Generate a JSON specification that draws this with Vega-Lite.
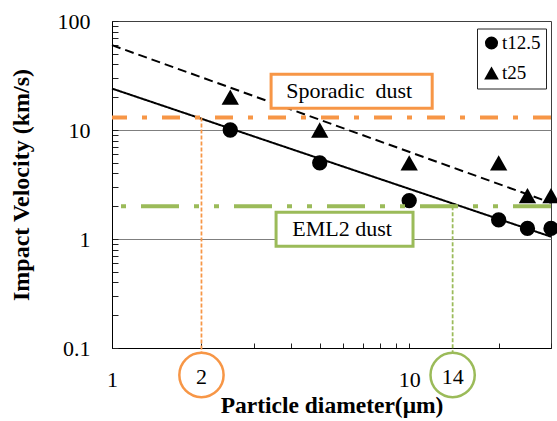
{
  "$schema": "https://vega.github.io/schema/vega-lite/v6.json",
  "width": 439,
  "height": 327,
  "autosize": {"type": "none"},
  "padding": {"left": 112, "top": 21, "right": 6, "bottom": 73},
  "background": "white",
  "config": {
    "font": "Liberation Serif",
    "view": {"stroke": "#404040", "strokeWidth": 1},
    "axis": {
      "labelFont": "Liberation Serif",
      "titleFont": "Liberation Serif",
      "labelColor": "black",
      "titleColor": "black",
      "domainColor": "black",
      "tickColor": "#222222"
    },
    "legend": {"labelFont": "Liberation Serif"}
  },
  "datasets": {
    "points": [
      {"d": 2.5, "v": 10, "s": "t12.5"},
      {"d": 5, "v": 5, "s": "t12.5"},
      {"d": 10, "v": 2.25, "s": "t12.5"},
      {"d": 20, "v": 1.5, "s": "t12.5"},
      {"d": 25, "v": 1.25, "s": "t12.5"},
      {"d": 30, "v": 1.25, "s": "t12.5"},
      {"d": 2.5, "v": 20, "s": "t25"},
      {"d": 5, "v": 10, "s": "t25"},
      {"d": 10, "v": 5, "s": "t25"},
      {"d": 20, "v": 5, "s": "t25"},
      {"d": 25, "v": 2.5, "s": "t25"},
      {"d": 30, "v": 2.5, "s": "t25"}
    ],
    "fits": [
      {"d": 1, "v": 24, "f": "fit12.5"},
      {"d": 30, "v": 1.05, "f": "fit12.5"},
      {"d": 1, "v": 60, "f": "fit25"},
      {"d": 30, "v": 2.15, "f": "fit25"}
    ],
    "levels": [
      {"dust": "Sporadic", "v": 13, "d": 2, "lab": "2"},
      {"dust": "EML2", "v": 2, "d": 14, "lab": "14"}
    ],
    "boxes": [
      {"dust": "Sporadic", "x1": 3.43, "x2": 11.95, "y1": 32.4, "y2": 15.8, "tx": 6.28, "ty": 22.6, "label": "Sporadic\u00a0 dust"},
      {"dust": "EML2", "x1": 3.565, "x2": 10.3, "y1": 1.76, "y2": 0.857, "tx": 5.95, "ty": 1.23, "label": "EML2 dust"}
    ]
  },
  "layer": [
    {
      "data": {"name": "fits"},
      "mark": {"type": "line", "color": "black", "strokeWidth": 2},
      "encoding": {
        "x": {
          "field": "d", "type": "quantitative",
          "scale": {"type": "log", "domain": [1, 30], "nice": false},
          "axis": {
            "values": [1, 2, 3, 4, 5, 6, 7, 8, 9, 10, 20, 30],
            "labelExpr": "datum.value == 1 ? '1' : datum.value == 10 ? '10' : ''",
            "tickSize": -5,
            "labelPadding": 26,
            "labelFontSize": 22,
            "labelFlush": false,
            "labelOverlap": false,
            "grid": false,
            "title": "Particle diameter(μm)",
            "titleFontSize": 23.5,
            "titleFontWeight": "bold",
            "titlePadding": 3
          }
        },
        "y": {
          "field": "v", "type": "quantitative",
          "scale": {"type": "log", "domain": [0.1, 100], "nice": false},
          "axis": {
            "values": [0.1, 0.2, 0.3, 0.4, 0.5, 0.6, 0.7, 0.8, 0.9, 1, 2, 3, 4, 5, 6, 7, 8, 9, 10, 20, 30, 40, 50, 60, 70, 80, 90, 100],
            "labelExpr": "datum.value == 0.1 ? '0.1' : datum.value == 1 ? '1' : datum.value == 10 ? '10' : datum.value == 100 ? '100' : ''",
            "tickSize": -6,
            "labelPadding": 28,
            "labelFontSize": 22,
            "labelFlush": false,
            "labelOverlap": false,
            "grid": true,
            "gridColor": "#7f7f7f",
            "gridOpacity": {"condition": {"test": "datum.value == 1 || datum.value == 10", "value": 1}, "value": 0},
            "title": "Impact Velocity (km/s)",
            "titleFontSize": 24,
            "titleFontWeight": "bold",
            "titlePadding": 24
          }
        },
        "strokeDash": {
          "field": "f", "type": "nominal",
          "scale": {"domain": ["fit12.5", "fit25"], "range": [[1, 0], [9, 5]]},
          "legend": null
        }
      }
    },
    {
      "data": {"name": "points"},
      "mark": {"type": "point", "filled": true, "color": "black", "opacity": 1, "strokeWidth": 0, "size": 235},
      "encoding": {
        "x": {"field": "d", "type": "quantitative"},
        "y": {"field": "v", "type": "quantitative"},
        "shape": {
          "field": "s", "type": "nominal",
          "scale": {"domain": ["t12.5", "t25"], "range": ["circle", "M0,-1L1.13,1L-1.13,1Z"]},
          "legend": {
            "title": null,
            "orient": "none",
            "legendX": 365,
            "legendY": 7.5,
            "strokeColor": "#222222",
            "padding": 5,
            "labelFontSize": 19,
            "labelOffset": 1,
            "rowPadding": 10,
            "symbolSize": 170,
            "symbolFillColor": "black",
            "symbolStrokeWidth": 0,
            "fillColor": "white"
          }
        }
      }
    },
    {
      "data": {"values": [{"v": 13}]},
      "mark": {"type": "rule", "color": "#F79646", "strokeWidth": 4, "strokeDash": [18, 15, 5, 15]},
      "encoding": {"y": {"field": "v", "type": "quantitative"}}
    },
    {
      "data": {"values": [{"v": 2}]},
      "mark": {"type": "rule", "color": "#9BBB59", "strokeWidth": 4, "strokeDash": [38, 15, 5, 15, 5, 15]},
      "encoding": {"y": {"field": "v", "type": "quantitative"}}
    },
    {
      "data": {"name": "levels"},
      "mark": {"type": "rule", "strokeWidth": 1.75, "strokeDash": [4, 2], "y2Offset": 4},
      "encoding": {
        "x": {"field": "d", "type": "quantitative"},
        "y": {"field": "v", "type": "quantitative"},
        "y2": {"datum": 0.1},
        "color": {
          "field": "dust", "type": "nominal",
          "scale": {"domain": ["Sporadic", "EML2"], "range": ["#F79646", "#9BBB59"]},
          "legend": null
        }
      }
    },
    {
      "data": {"name": "boxes"},
      "mark": {"type": "rect", "fill": "white", "strokeWidth": 3},
      "encoding": {
        "x": {"field": "x1", "type": "quantitative"},
        "x2": {"field": "x2"},
        "y": {"field": "y1", "type": "quantitative"},
        "y2": {"field": "y2"},
        "stroke": {
          "field": "dust", "type": "nominal",
          "scale": {"domain": ["Sporadic", "EML2"], "range": ["#F79646", "#9BBB59"]},
          "legend": null
        }
      }
    },
    {
      "data": {"name": "boxes"},
      "mark": {"type": "text", "fontSize": 22, "align": "center", "baseline": "middle", "color": "black", "font": "Liberation Serif"},
      "encoding": {
        "x": {"field": "tx", "type": "quantitative"},
        "y": {"field": "ty", "type": "quantitative"},
        "text": {"field": "label"}
      }
    },
    {
      "data": {"name": "levels"},
      "mark": {"type": "point", "shape": "circle", "filled": false, "size": 1960, "strokeWidth": 2.5, "yOffset": 27, "opacity": 1},
      "encoding": {
        "x": {"field": "d", "type": "quantitative"},
        "y": {"datum": 0.1},
        "stroke": {
          "field": "dust", "type": "nominal",
          "scale": {"domain": ["Sporadic", "EML2"], "range": ["#F79646", "#9BBB59"]},
          "legend": null
        }
      }
    },
    {
      "data": {"name": "levels"},
      "mark": {"type": "text", "fontSize": 22, "align": "center", "baseline": "alphabetic", "yOffset": 36, "color": "black", "font": "Liberation Serif"},
      "encoding": {
        "x": {"field": "d", "type": "quantitative"},
        "y": {"datum": 0.1},
        "text": {"field": "lab"}
      }
    }
  ]
}
